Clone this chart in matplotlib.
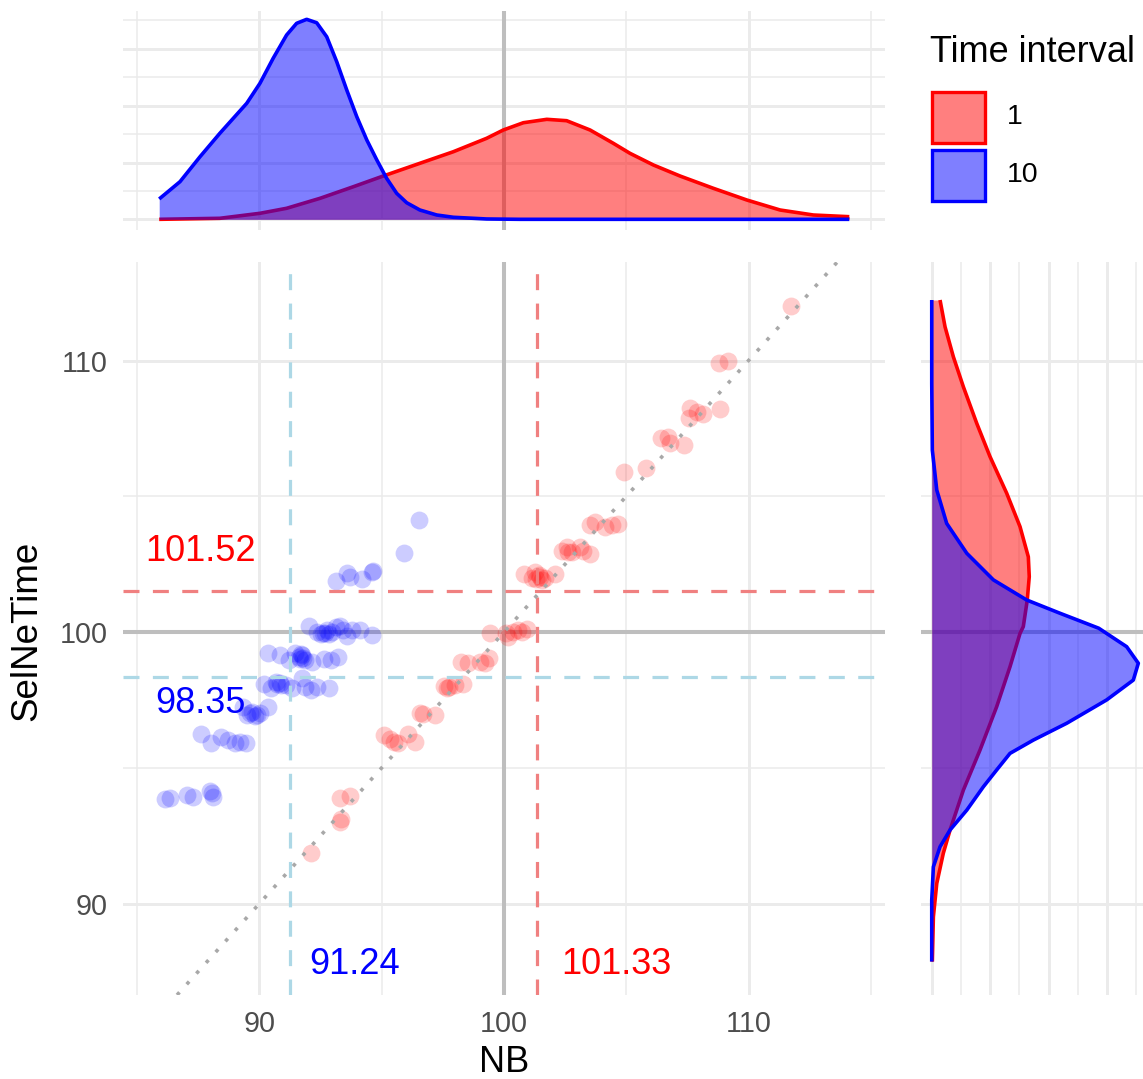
import numpy as np
import matplotlib.pyplot as plt
from matplotlib.patches import Rectangle
from matplotlib.colors import to_rgba

plt.rcParams['font.family'] = ['Liberation Sans', 'DejaVu Sans']

# scatter points, time interval 1
nb_1 = [92.10, 93.30, 93.70, 93.30, 93.34,
        95.10, 95.34, 95.50, 95.68, 96.09, 96.36,
        96.56, 96.70, 97.18,
        97.55, 97.66, 97.77, 98.00, 98.34,
        98.23, 98.54, 99.02, 99.22, 99.40,
        99.43, 100.08, 100.18, 100.38, 100.58, 100.72, 100.93,
        100.80, 101.13, 101.27, 101.47, 101.68, 102.09, 101.30, 101.45, 101.55,
        102.36, 102.56, 102.77, 103.10, 103.24, 103.50, 102.60,
        103.50, 103.72, 104.13, 104.40, 104.67,
        104.90, 105.80,
        106.40, 106.72, 106.79, 107.36,
        107.60, 107.58, 107.90, 108.13, 108.84,
        108.80, 109.15, 111.74]
selne_1 = [91.87, 93.90, 93.96, 93.00, 93.10,
           96.20, 96.05, 95.96, 95.90, 96.24, 95.96,
           97.03, 96.98, 96.94,
           98.00, 97.93, 97.96, 98.05, 98.10,
           98.90, 98.87, 98.90, 98.87, 99.03,
           99.95, 99.95, 99.83, 100.00, 100.07, 100.00, 100.10,
           102.14, 101.98, 102.22, 102.03, 101.98, 102.14, 101.95, 102.10, 101.92,
           103.00, 103.14, 102.96, 103.14, 103.00, 102.87, 102.95,
           103.94, 104.06, 103.88, 103.94, 103.97,
           105.90, 106.03,
           107.15, 107.19, 106.95, 106.89,
           108.24, 107.87, 108.12, 108.03, 108.20,
           109.92, 109.98, 112.00]

# scatter points, time interval 10
nb_10 = [96.52, 95.91,
         93.14, 93.57, 93.70, 94.20, 94.60, 94.65,
         92.04, 92.34, 92.60, 92.75, 92.95, 93.14, 93.28, 93.40, 93.60, 93.80, 94.10, 94.60,
         92.50, 92.70, 92.85,
         90.35, 90.86, 91.20, 91.47, 91.61, 91.75, 91.88, 92.15, 92.63, 92.91, 93.22,
         91.65, 91.80, 91.70,
         90.18, 90.46, 90.66, 90.86, 91.07, 91.34, 91.75, 91.88, 92.09, 92.36, 92.84,
         90.70, 90.90,
         89.34, 89.61, 89.82, 90.02, 90.36, 89.50, 89.70, 89.90,
         87.62, 88.03, 88.44, 88.71, 88.98, 89.19, 89.46,
         86.13, 86.34, 87.02, 87.29, 87.97, 88.04, 88.10]
selne_10 = [104.13, 102.92,
            101.88, 102.17, 102.03, 101.96, 102.20, 102.24,
            100.22, 100.01, 99.96, 100.07, 100.01, 100.20, 100.22, 100.07, 99.85, 100.07, 100.07, 99.89,
            99.93, 99.95, 99.92,
            99.24, 99.15, 98.97, 99.23, 99.09, 99.15, 98.97, 98.90, 99.00, 98.97, 99.09,
            99.00, 99.05, 99.18,
            98.10, 97.93, 98.17, 98.13, 98.05, 97.93, 98.30, 97.99, 97.86, 97.99, 97.93,
            98.10, 98.05,
            97.25, 97.00, 96.90, 97.00, 97.25, 96.95, 97.05, 96.95,
            96.24, 95.90, 96.14, 96.02, 95.90, 95.96, 95.90,
            93.84, 93.90, 94.00, 93.93, 94.15, 94.06, 93.93]

# group means
intervals = ['1', '10']
mean_nb = [101.33, 91.24]
mean_selne = [101.52, 98.35]

# marginal density of NB (top)
top_x_1 = [85.90, 88.38, 90.02, 91.11, 92.48, 93.84, 95.06, 96.56, 97.93, 99.29, 99.97,
           100.79, 101.75, 102.56, 103.52, 104.47, 105.15, 106.11, 107.20, 108.56,
           109.93, 111.29, 112.65, 114.12]
top_d_1 = [0.0, 0.0009, 0.0053, 0.0097, 0.0185, 0.0287, 0.0381, 0.0493, 0.0595, 0.0713, 0.0786,
           0.0850, 0.0880, 0.0868, 0.0786, 0.0669, 0.0581, 0.0478, 0.0381, 0.0273,
           0.0170, 0.0082, 0.0038, 0.0023]
top_x_10 = [85.90, 86.75, 87.57, 88.38, 89.48, 90.02, 90.56, 91.11, 91.52, 91.93, 92.34,
            92.75, 93.16, 93.57, 93.98, 94.39, 94.80, 95.20, 95.61, 96.02, 96.56, 97.25,
            97.93, 99.29, 100.65, 105.00, 114.12]
top_d_10 = [0.0179, 0.0331, 0.0551, 0.0757, 0.1021, 0.1197, 0.1417, 0.1622, 0.1725, 0.1760, 0.1730,
            0.1607, 0.1387, 0.1138, 0.0903, 0.0698, 0.0522, 0.0361, 0.0229, 0.0146, 0.0082, 0.0038,
            0.0018, 0.0003, 0.0, 0.0, 0.0]

# marginal density of SelNeTime (right)
right_y_1 = [112.23, 111.24, 110.14, 109.03, 107.69, 106.46, 105.11, 103.88, 102.77, 102.04,
             101.18, 100.20, 99.95, 98.72, 97.25, 95.65, 94.18, 92.71, 91.85, 90.74, 89.51, 87.86]
right_d_1 = [0.0071, 0.0114, 0.0185, 0.0271, 0.0385, 0.0499, 0.0642, 0.0756, 0.0827, 0.0835,
             0.0818, 0.0784, 0.0756, 0.0670, 0.0556, 0.0413, 0.0271, 0.0157, 0.0099, 0.0043, 0.0014, 0.0005]
right_y_10 = [112.23, 109.16, 106.70, 105.23, 104.00, 102.90, 101.92, 101.18, 100.69, 100.14,
              99.46, 98.85, 98.23, 97.50, 96.64, 96.02, 95.53, 94.92, 94.30, 93.44, 92.71,
              92.09, 91.35, 90.13, 87.86]
right_d_10 = [0.0, 0.0, 0.0005, 0.0043, 0.0128, 0.0300, 0.0528, 0.0813, 0.1099, 0.1430,
              0.1669, 0.1769, 0.1726, 0.1498, 0.1156, 0.0870, 0.0670, 0.0556, 0.0442, 0.0300, 0.0157,
              0.0071, 0.0014, 0.0, 0.0]

colors = ['#FF0000', '#0000FF']
mean_line_colors = ['#F08080', '#ADD8E6']
grid_col = '#EBEBEB'
ref_col = '#BEBEBE'

W, H = 1143, 1079
fig = plt.figure(figsize=(W / 100, H / 100), dpi=100)


def box(l, t, r, b):
    return [l / W, 1 - b / H, (r - l) / W, (b - t) / H]


ax = fig.add_axes(box(123, 262, 885, 995))
ax_top = fig.add_axes(box(123, 10.7, 885, 230))
ax_right = fig.add_axes(box(921, 262, 1143, 995))

nb_major, nb_minor = [90, 100, 110], [85, 95, 105, 115]
sel_major, sel_minor = [90, 100, 110], [95, 105]
d_major, d_minor = [0, 0.05, 0.10, 0.15], [0.025, 0.075, 0.125, 0.175]


def style(a, xmaj, xmin, ymaj, ymin):
    a.set_xticks(xmaj)
    a.set_xticks(xmin, minor=True)
    a.set_yticks(ymaj)
    a.set_yticks(ymin, minor=True)
    a.grid(which='major', color=grid_col, lw=2.1)
    a.grid(which='minor', color=grid_col, lw=1.1)
    a.set_axisbelow(True)
    for s in a.spines.values():
        s.set_visible(False)
    a.tick_params(which='both', length=0, labelsize=20.7, labelcolor='#4D4D4D', pad=11)


style(ax, nb_major, nb_minor, sel_major, sel_minor)
style(ax_top, nb_major, nb_minor, d_major, d_minor)
style(ax_right, d_major, d_minor, sel_major, sel_minor)
ax_top.tick_params(labelbottom=False, labelleft=False)
ax_right.tick_params(labelbottom=False, labelleft=False)

ax.set_xlim(84.42, 115.58)
ax.set_ylim(86.63, 113.63)
ax_top.set_xlim(84.42, 115.58)
ax_top.set_ylim(-0.0094, 0.1836)
ax_right.set_xlim(-0.0092, 0.1809)
ax_right.set_ylim(86.63, 113.63)

# main scatter
ax.axvline(100, color=ref_col, lw=2.9, zorder=1)
ax.axhline(100, color=ref_col, lw=2.9, zorder=1)
ax.scatter(nb_1, selne_1, s=165, color=colors[0], alpha=0.2, lw=0, zorder=2)
ax.scatter(nb_10, selne_10, s=165, color=colors[1], alpha=0.2, lw=0, zorder=2)
for i in range(2):
    ax.axvline(mean_nb[i], color=mean_line_colors[i], lw=2.3, dashes=(5, 4.2), zorder=3)
    ax.axhline(mean_selne[i], color=mean_line_colors[i], lw=2.3, dashes=(5, 4.2), zorder=3)
ax.axline((100, 100), slope=1, color='#A8A8A8', lw=2.6, dashes=(1, 3), zorder=4)

ax.text(87.6, 102.98, f'{mean_selne[0]:.2f}', color=colors[0], size=26, ha='center', va='center')
ax.text(87.6, 97.38, f'{mean_selne[1]:.2f}', color=colors[1], size=26, ha='center', va='center')
ax.text(104.58, 87.74, f'{mean_nb[0]:.2f}', color=colors[0], size=26, ha='center', va='center')
ax.text(93.87, 87.74, f'{mean_nb[1]:.2f}', color=colors[1], size=26, ha='center', va='center')

# top marginal
ax_top.axvline(100, color=ref_col, lw=2.9, zorder=1)
for xs, ds, c in [(top_x_1, top_d_1, colors[0]), (top_x_10, top_d_10, colors[1])]:
    ax_top.fill_between(xs, 0, ds, color=c, alpha=0.5, lw=0, zorder=2)
    ax_top.plot(xs, ds, color=c, lw=2.6, zorder=2, solid_capstyle='butt', solid_joinstyle='round')

# right marginal
ax_right.axhline(100, color=ref_col, lw=2.9, zorder=1)
for ys, ds, c in [(right_y_1, right_d_1, colors[0]), (right_y_10, right_d_10, colors[1])]:
    ax_right.fill_betweenx(ys, 0, ds, color=c, alpha=0.5, lw=0, zorder=2)
    ax_right.plot(ds, ys, color=c, lw=2.6, zorder=2, solid_capstyle='butt', solid_joinstyle='round')

# axis titles
fig.text(504 / W, 1 - 1063 / H, 'NB', size=26, ha='center', va='center')
fig.text(27 / W, 1 - 631 / H, 'SelNeTime', size=26.5, rotation=90, ha='center', va='center')

# legend
fig.text(930 / W, 1 - 53 / H, 'Time interval', size=26, ha='left', va='center')
key_tops = [90, 148.3]
for i in range(2):
    fig.add_artist(Rectangle(((930.7 + 1.5) / W, 1 - (key_tops[i] + 54 - 1.5) / H), 52.3 / W, 51 / H,
                             transform=fig.transFigure, facecolor=to_rgba(colors[i], 0.5),
                             edgecolor=colors[i], lw=2.4))
    fig.text(1006.7 / W, 1 - (key_tops[i] + 27) / H, intervals[i], size=20.5, ha='left', va='center')

fig.savefig('out.png', dpi=100)
